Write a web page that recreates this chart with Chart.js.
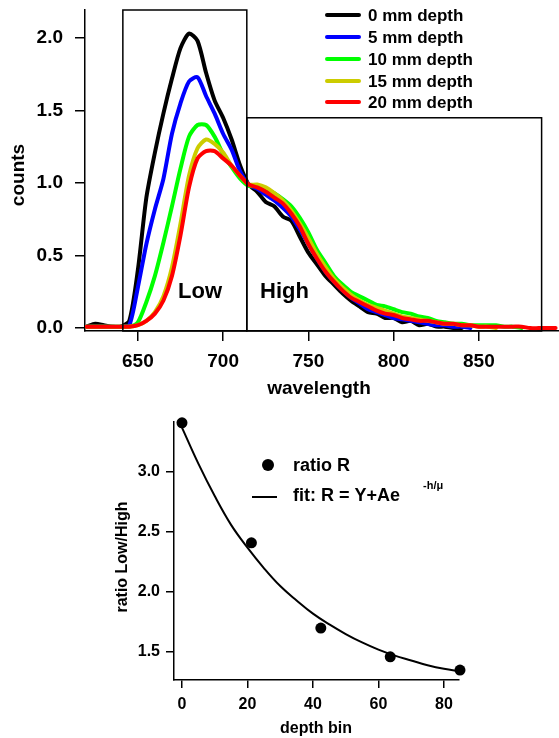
<!DOCTYPE html>
<html>
<head>
<meta charset="utf-8">
<script src="https://cdn.jsdelivr.net/npm/chart.js@4.4.0/dist/chart.umd.min.js"></script>
<style>
    body { margin: 0; background: #fff; }
    #wrap { position: relative; width: 559px; height: 738px; }
    canvas { position: absolute; left: 0; }
    #spectraChart { top: 0; }
    #ratioChart { top: 400px; }
</style>
</head>
<body>
<div id="wrap">
    <canvas id="spectraChart" width="559" height="400"></canvas>
    <canvas id="ratioChart" width="559" height="338"></canvas>
</div>
<script>
// ---- top panel: spectra ----
const wavelengths = [620, 625, 630, 635, 640, 645, 650, 655, 660, 665, 670, 675, 680, 685, 690, 695,
    700, 705, 710, 715, 720, 725, 730, 735, 740, 745, 750, 755, 760, 765, 770, 775, 780, 785, 790, 795,
    800, 805, 810, 815, 820, 825, 830, 835, 840, 845, 850, 855, 860, 865, 870, 875, 880, 885, 890, 895];

const depth0 = [0.01, 0.03, 0.02, 0.01, 0.01, 0.05, 0.40, 0.90, 1.21, 1.48, 1.72, 1.93, 2.03, 1.98, 1.76, 1.57,
    1.45, 1.30, 1.12, 0.99, 0.94, 0.87, 0.84, 0.77, 0.74, 0.63, 0.52, 0.44, 0.36, 0.30, 0.24, 0.19, 0.15, 0.11, 0.10, 0.07,
    0.07, 0.04, 0.05, 0.02, 0.03, 0.01, 0.01, 0.00, 0.00, null, null, null, null, null, null, null, null, null, null, null];
const depth5 = [0.01, 0.01, 0.01, 0.01, 0.01, 0.02, 0.28, 0.58, 0.82, 1.03, 1.34, 1.55, 1.70, 1.73, 1.60, 1.48,
    1.34, 1.23, 1.08, 0.99, 0.96, 0.92, 0.88, 0.83, 0.77, 0.68, 0.58, 0.48, 0.39, 0.32, 0.26, 0.21, 0.17, 0.13, 0.11, 0.09,
    0.07, 0.06, 0.05, 0.04, 0.03, 0.02, 0.02, 0.01, 0.01, 0.00, null, null, null, null, null, null, null, null, null, null];
const depth10 = [0.01, 0.01, 0.01, 0.01, 0.01, 0.01, 0.04, 0.18, 0.36, 0.59, 0.84, 1.10, 1.32, 1.40, 1.40, 1.32,
    1.20, 1.11, 1.03, 0.98, 0.98, 0.96, 0.93, 0.89, 0.84, 0.76, 0.66, 0.54, 0.45, 0.36, 0.30, 0.25, 0.22, 0.19, 0.16, 0.15,
    0.13, 0.11, 0.10, 0.08, 0.07, 0.05, 0.04, 0.03, 0.03, 0.02, 0.02, 0.02, 0.02, 0.01, 0.01, 0.00, null, null, null, null];
const depth15 = [0.01, 0.01, 0.01, 0.01, 0.01, 0.01, 0.02, 0.05, 0.11, 0.22, 0.42, 0.72, 1.05, 1.24, 1.30, 1.27,
    1.21, 1.12, 1.05, 0.99, 0.99, 0.97, 0.93, 0.88, 0.81, 0.72, 0.62, 0.51, 0.42, 0.34, 0.28, 0.23, 0.19, 0.16, 0.14, 0.12,
    0.10, 0.08, 0.07, 0.06, 0.05, 0.04, 0.03, 0.03, 0.02, 0.02, 0.01, 0.01, 0.00, null, null, null, null, null, null, null];
const depth20 = [0.01, 0.01, 0.01, 0.01, 0.01, 0.01, 0.02, 0.05, 0.10, 0.19, 0.36, 0.64, 0.97, 1.17, 1.22, 1.22,
    1.17, 1.12, 1.05, 0.99, 0.97, 0.94, 0.90, 0.86, 0.79, 0.70, 0.58, 0.48, 0.39, 0.32, 0.26, 0.21, 0.18, 0.15, 0.12, 0.10,
    0.09, 0.07, 0.06, 0.05, 0.05, 0.04, 0.03, 0.03, 0.02, 0.02, 0.01, 0.01, 0.01, 0.01, 0.01, 0.01, 0.00, 0.00, 0.00, 0.00];

const seriesLabels = ["0 mm depth", "5 mm depth", "10 mm depth", "15 mm depth", "20 mm depth"];
const seriesColors = ["#000000", "#0000ff", "#00ff00", "#cccc00", "#ff0000"];
const wavelengthTicks = [650, 700, 750, 800, 850];
const countTicks = [0, 0.5, 1.0, 1.5, 2.0];
const lowBand = [641.2, 713.9];
const highBand = [713.9, 886.8];
const highBandTop = 1.45;

// ---- bottom panel: ratio vs depth ----
const depthBins = [0, 21.2, 42.4, 63.6, 84.9];
const ratioR = [3.41, 2.41, 1.70, 1.46, 1.35];
const fitDepth = [0, 5, 10, 15, 20, 25, 30, 35, 40, 45, 50, 55, 60, 65, 70, 75, 80, 85];
const fitRatio = [3.37, 3.07, 2.80, 2.56, 2.37, 2.20, 2.05, 1.93, 1.82, 1.73, 1.65, 1.58, 1.52, 1.47, 1.43, 1.39, 1.36, 1.34];
const depthTicks = [0, 20, 40, 60, 80];
const ratioTicks = [1.5, 2.0, 2.5, 3.0];

const FONT = "'Liberation Sans', Arial, sans-serif";

function font(size) {
    return { family: FONT, size: size, weight: "bold" };
}

function axisStyle(tickLen, tickPad, size, fmt) {
    const ticks = { color: "#000", font: font(size), padding: tickPad, autoSkip: false, maxRotation: 0 };
    if (fmt) ticks.callback = fmt;
    return {
        grid: { display: true, drawOnChartArea: false, drawTicks: true, tickLength: tickLen, tickWidth: 1.5, tickColor: "#000", lineWidth: 1.5 },
        border: { display: true, color: "#000", width: 1.5 },
        ticks: ticks
    };
}

// fix axis box size and drop the edge-label padding chart.js adds
function fixSize(w, h) {
    return s => {
        if (w != null) s.width = w;
        if (h != null) s.height = h;
        s.paddingTop = 0;
        s.paddingBottom = 0;
        s.paddingLeft = 0;
        s.paddingRight = 0;
    };
}

const oneDecimal = v => Number(v).toFixed(1);

const spectraDecor = {
    id: "spectraDecor",
    afterDatasetsDraw(chart) {
        const { ctx, scales: { x, y } } = chart;
        ctx.save();
        ctx.strokeStyle = "#000";
        ctx.lineWidth = 1.5;
        const yBottom = y.getPixelForValue(y.min);
        const yTop = y.getPixelForValue(y.max);
        const lx0 = x.getPixelForValue(lowBand[0]);
        const lx1 = x.getPixelForValue(lowBand[1]);
        ctx.strokeRect(lx0, yTop, lx1 - lx0, yBottom - yTop);
        const hx0 = x.getPixelForValue(highBand[0]);
        const hx1 = x.getPixelForValue(highBand[1]);
        const hy = y.getPixelForValue(highBandTop);
        ctx.strokeRect(hx0, hy, hx1 - hx0, yBottom - hy);
        ctx.restore();
    },
    afterDraw(chart) {
        const ctx = chart.ctx;
        ctx.save();
        ctx.fillStyle = "#000";
        ctx.font = "bold 22px " + FONT;
        ctx.textBaseline = "alphabetic";
        ctx.textAlign = "left";
        ctx.fillText("Low", 178, 298);
        ctx.fillText("High", 260, 298);

        ctx.font = "bold 19px " + FONT;
        ctx.textAlign = "center";
        ctx.fillText("wavelength", 319, 394);
        ctx.save();
        ctx.translate(19, 175);
        ctx.rotate(-Math.PI / 2);
        ctx.textBaseline = "middle";
        ctx.fillText("counts", 0, 0);
        ctx.restore();

        // legend
        ctx.font = "bold 17px " + FONT;
        ctx.textAlign = "left";
        ctx.textBaseline = "middle";
        ctx.lineWidth = 4;
        ctx.lineCap = "round";
        const rows = [15, 37, 59, 81, 102];
        seriesLabels.forEach((label, i) => {
            ctx.strokeStyle = seriesColors[i];
            ctx.beginPath();
            ctx.moveTo(327, rows[i]);
            ctx.lineTo(359, rows[i]);
            ctx.stroke();
            ctx.fillText(label, 368, rows[i] + 1);
        });
        ctx.restore();
    }
};

const seriesValues = [depth0, depth5, depth10, depth15, depth20];

new Chart(document.getElementById("spectraChart"), {
    type: "scatter",
    data: {
        datasets: seriesValues.map((vals, i) => ({
            label: seriesLabels[i],
            data: wavelengths.map((w, j) => ({ x: w, y: vals[j] })),
            showLine: true,
            borderColor: seriesColors[i],
            backgroundColor: seriesColors[i],
            borderWidth: 4,
            pointRadius: 0,
            tension: 0.25,
            borderJoinStyle: "round",
            borderCapStyle: "round",
            spanGaps: false,
            order: seriesValues.length - i
        }))
    },
    options: {
        responsive: false,
        animation: false,
        layout: { padding: { left: 0, right: 0, top: 10, bottom: 0 } },
        plugins: { legend: { display: false }, tooltip: { enabled: false } },
        scales: {
            x: Object.assign(axisStyle(10, 9, 19), {
                type: "linear",
                min: 619,
                max: 897,
                afterBuildTicks: s => { s.ticks = wavelengthTicks.map(v => ({ value: v })); },
                afterFit: fixSize(null, 69)
            }),
            y: Object.assign(axisStyle(10, 12, 19, oneDecimal), {
                min: -0.02,
                max: 2.193,
                afterBuildTicks: s => { s.ticks = countTicks.map(v => ({ value: v })); },
                afterFit: fixSize(85, null)
            })
        }
    },
    plugins: [spectraDecor]
});

const ratioDecor = {
    id: "ratioDecor",
    afterDraw(chart) {
        const ctx = chart.ctx;
        ctx.save();
        ctx.fillStyle = "#000";
        ctx.strokeStyle = "#000";
        ctx.font = "bold 16px " + FONT;
        ctx.textAlign = "center";
        ctx.textBaseline = "alphabetic";
        ctx.fillText("depth bin", 316, 333);
        ctx.save();
        ctx.translate(123, 157);
        ctx.rotate(-Math.PI / 2);
        ctx.textBaseline = "middle";
        ctx.fillText("ratio Low/High", 0, 0);
        ctx.restore();

        // legend
        ctx.beginPath();
        ctx.arc(268, 65, 6, 0, Math.PI * 2);
        ctx.fill();
        ctx.lineWidth = 2;
        ctx.beginPath();
        ctx.moveTo(252, 97);
        ctx.lineTo(277, 97);
        ctx.stroke();
        ctx.font = "bold 18px " + FONT;
        ctx.textAlign = "left";
        ctx.textBaseline = "middle";
        ctx.fillText("ratio R", 293, 66);
        ctx.fillText("fit: R = Y+Ae", 293, 96);
        ctx.font = "bold 11px " + FONT;
        ctx.fillText("-h/\u03bc", 423, 86);
        ctx.restore();
    }
};

new Chart(document.getElementById("ratioChart"), {
    type: "scatter",
    data: {
        datasets: [
            {
                label: "ratio R",
                data: depthBins.map((d, i) => ({ x: d, y: ratioR[i] })),
                pointRadius: 5.5,
                pointBackgroundColor: "#000",
                pointBorderWidth: 0,
                clip: false,
                order: 0
            },
            {
                label: "fit",
                data: fitDepth.map((d, i) => ({ x: d, y: fitRatio[i] })),
                showLine: true,
                borderColor: "#000",
                borderWidth: 2,
                pointRadius: 0,
                tension: 0.4,
                clip: false,
                order: 1
            }
        ]
    },
    options: {
        responsive: false,
        animation: false,
        layout: { padding: { left: 0, right: 100, top: 22, bottom: 0 } },
        plugins: { legend: { display: false }, tooltip: { enabled: false } },
        scales: {
            x: Object.assign(axisStyle(8, 7, 16), {
                type: "linear",
                min: -2.44,
                max: 84.6,
                afterBuildTicks: s => { s.ticks = depthTicks.map(v => ({ value: v })); },
                afterFit: fixSize(null, 58)
            }),
            y: Object.assign(axisStyle(8, 6, 16, oneDecimal), {
                min: 1.267,
                max: 3.417,
                afterBuildTicks: s => { s.ticks = ratioTicks.map(v => ({ value: v })); },
                afterFit: fixSize(174, null)
            })
        }
    },
    plugins: [ratioDecor]
});
</script>
</body>
</html>
